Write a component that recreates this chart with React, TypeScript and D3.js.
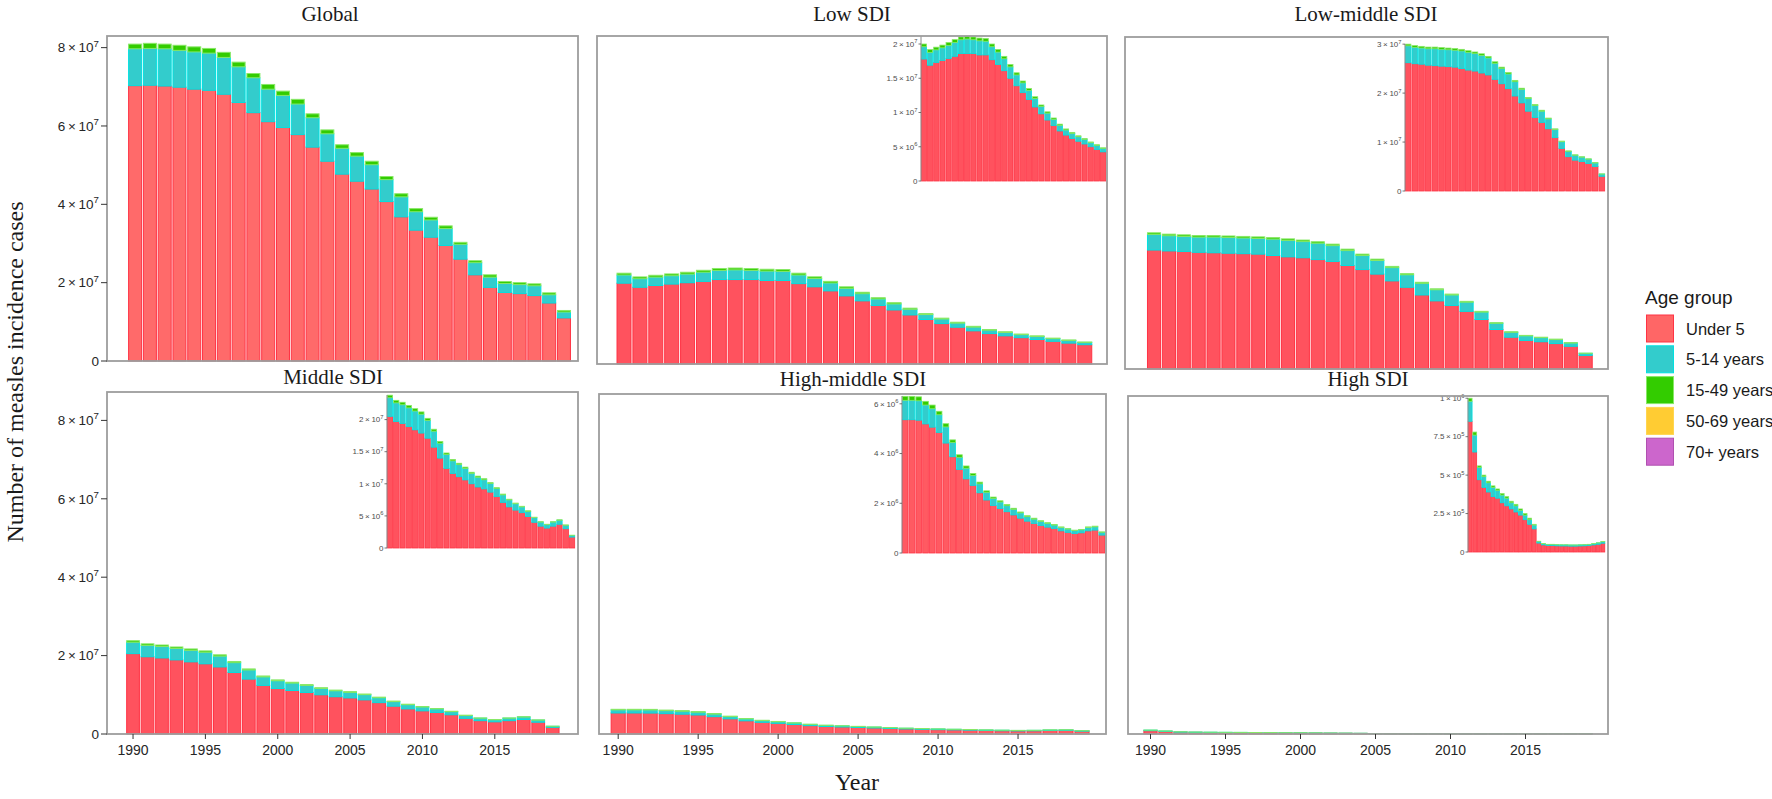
import * as d3 from "d3";
import React from "react";

// values are in millions of incident cases
const years = [1990, 1991, 1992, 1993, 1994, 1995, 1996, 1997, 1998, 1999, 2000, 2001, 2002, 2003, 2004, 2005, 2006, 2007, 2008, 2009, 2010, 2011, 2012, 2013, 2014, 2015, 2016, 2017, 2018, 2019];
const ageGroups = ["Under 5", "5-14 years", "15-49 years", "50-69 years", "70+ years"];
const ageFill = ["#FF6666", "#33CCCC", "#33CC00", "#FFCC33", "#CC66CC"];
const ageLine = ["#FF3344", "#00E1E1", "#88E866", "#FFD54F", "#B050B0"];

const globalUnder5 = [70.3, 70.4, 70.2, 69.9, 69.4, 69.1, 68.1, 66.0, 63.4, 61.1, 59.6, 57.8, 54.6, 51.0, 47.7, 45.9, 43.9, 40.7, 36.8, 33.4, 31.6, 29.5, 26.0, 22.0, 18.8, 17.5, 17.2, 16.7, 14.8, 11.0];
const global5to14 = [9.4, 9.4, 9.5, 9.4, 9.5, 9.5, 9.4, 9.1, 8.9, 8.3, 8.2, 7.8, 7.5, 7.0, 6.6, 6.4, 6.2, 5.6, 5.1, 4.7, 4.4, 4.3, 3.8, 3.1, 2.6, 2.3, 2.3, 2.5, 2.1, 1.5];
const global15to49 = [1.2, 1.3, 1.2, 1.3, 1.3, 1.2, 1.3, 1.2, 1.1, 1.2, 1.1, 1.2, 1.0, 1.0, 0.9, 0.9, 0.9, 0.8, 0.8, 0.8, 0.7, 0.7, 0.5, 0.5, 0.6, 0.5, 0.5, 0.5, 0.5, 0.4];
const global50to69 = [0.05, 0.05, 0.05, 0.05, 0.05, 0.05, 0.05, 0.05, 0.04, 0.04, 0.04, 0.04, 0.04, 0.04, 0.03, 0.03, 0.03, 0.03, 0.03, 0.03, 0.02, 0.02, 0.02, 0.02, 0.02, 0.02, 0.02, 0.02, 0.02, 0.01];
const global70plus = [0.02, 0.02, 0.02, 0.02, 0.02, 0.02, 0.02, 0.02, 0.02, 0.02, 0.01, 0.01, 0.01, 0.01, 0.01, 0.01, 0.01, 0.01, 0.01, 0.01, 0.01, 0.01, 0.01, 0.01, 0.01, 0.01, 0.01, 0.01, 0.01, 0.01];

const lowUnder5 = [17.8, 16.9, 17.3, 17.6, 17.9, 18.2, 18.6, 18.6, 18.6, 18.4, 18.4, 17.7, 17.0, 16.1, 15.0, 13.9, 12.9, 11.9, 10.8, 9.8, 8.9, 8.1, 7.3, 6.7, 6.2, 5.8, 5.4, 5.0, 4.6, 4.25];
const low5to14 = [1.80, 1.88, 1.84, 1.84, 1.90, 2.02, 2.02, 2.12, 2.02, 2.06, 2.00, 1.90, 1.82, 1.74, 1.66, 1.58, 1.42, 1.32, 1.24, 1.08, 1.00, 0.90, 0.82, 0.74, 0.74, 0.66, 0.66, 0.58, 0.58, 0.50];
const low15to49 = [0.40, 0.40, 0.40, 0.40, 0.41, 0.42, 0.42, 0.42, 0.41, 0.41, 0.41, 0.40, 0.38, 0.36, 0.34, 0.32, 0.28, 0.28, 0.26, 0.22, 0.20, 0.20, 0.18, 0.16, 0.16, 0.14, 0.14, 0.12, 0.12, 0.10];
const low50to69 = [0.02, 0.02, 0.02, 0.02, 0.02, 0.02, 0.02, 0.02, 0.02, 0.02, 0.02, 0.02, 0.02, 0.02, 0.01, 0.01, 0.01, 0.01, 0.01, 0.01, 0.01, 0.01, 0.01, 0.01, 0.01, 0.01, 0.01, 0.01, 0.01, 0.01];
const low70plus = [0.01, 0.01, 0.01, 0.01, 0.01, 0.01, 0.01, 0.01, 0.01, 0.01, 0.01, 0.01, 0.01, 0.01, 0.01, 0.01, 0.01, 0.01, 0.01, 0.01, 0.01, 0.01, 0.01, 0.01, 0.01, 0.01, 0.01, 0.01, 0.01, 0.01];

const lmUnder5 = [26.2, 26.0, 25.9, 25.7, 25.6, 25.5, 25.4, 25.3, 25.0, 24.7, 24.5, 24.1, 23.7, 22.8, 21.9, 20.9, 19.4, 18.0, 16.3, 15.0, 14.0, 12.7, 10.9, 8.7, 7.0, 6.3, 6.0, 5.6, 5.0, 3.0];
const lm5to14 = [3.45, 3.35, 3.30, 3.35, 3.45, 3.45, 3.45, 3.45, 3.60, 3.62, 3.56, 3.60, 3.47, 3.28, 3.09, 3.00, 2.92, 2.74, 2.56, 2.44, 2.29, 2.01, 1.63, 1.36, 1.08, 0.99, 0.90, 0.88, 0.71, 0.44];
const lm15to49 = [0.35, 0.35, 0.35, 0.35, 0.35, 0.35, 0.35, 0.35, 0.34, 0.34, 0.34, 0.33, 0.33, 0.32, 0.31, 0.30, 0.28, 0.26, 0.24, 0.22, 0.21, 0.19, 0.17, 0.14, 0.12, 0.11, 0.10, 0.10, 0.09, 0.06];
const lm50to69 = [0.02, 0.02, 0.02, 0.02, 0.02, 0.02, 0.02, 0.02, 0.02, 0.02, 0.02, 0.02, 0.02, 0.02, 0.02, 0.02, 0.01, 0.01, 0.01, 0.01, 0.01, 0.01, 0.01, 0.01, 0.01, 0.01, 0.01, 0.01, 0.01, 0.01];
const lm70plus = [0.01, 0.01, 0.01, 0.01, 0.01, 0.01, 0.01, 0.01, 0.01, 0.01, 0.01, 0.01, 0.01, 0.01, 0.01, 0.01, 0.01, 0.01, 0.01, 0.01, 0.01, 0.01, 0.01, 0.01, 0.01, 0.01, 0.01, 0.01, 0.01, 0.01];

const midUnder5 = [20.5, 19.7, 19.4, 18.9, 18.4, 17.9, 17.1, 15.7, 14.0, 12.4, 11.6, 11.1, 10.6, 10.0, 9.5, 9.2, 8.7, 8.0, 7.1, 6.4, 5.9, 5.5, 4.9, 4.0, 3.4, 3.1, 3.4, 3.7, 3.0, 1.7];
const mid5to14 = [2.90, 2.90, 2.91, 2.92, 2.93, 2.94, 2.76, 2.49, 2.32, 2.15, 1.97, 1.88, 1.79, 1.60, 1.51, 1.42, 1.33, 1.24, 1.16, 1.07, 0.98, 0.89, 0.80, 0.72, 0.63, 0.53, 0.63, 0.62, 0.53, 0.26];
const mid15to49 = [0.40, 0.40, 0.39, 0.38, 0.37, 0.36, 0.34, 0.31, 0.28, 0.25, 0.23, 0.22, 0.21, 0.20, 0.19, 0.18, 0.17, 0.16, 0.14, 0.13, 0.12, 0.11, 0.10, 0.08, 0.07, 0.07, 0.07, 0.08, 0.07, 0.04];
const mid50to69 = [0.02, 0.02, 0.02, 0.02, 0.02, 0.02, 0.02, 0.01, 0.01, 0.01, 0.01, 0.01, 0.01, 0.01, 0.01, 0.01, 0.01, 0.01, 0.01, 0.01, 0.01, 0.01, 0.01, 0.01, 0.01, 0.01, 0.01, 0.01, 0.01, 0.01];
const mid70plus = [0.01, 0.01, 0.01, 0.01, 0.01, 0.01, 0.01, 0.01, 0.01, 0.01, 0.01, 0.01, 0.01, 0.01, 0.01, 0.01, 0.01, 0.01, 0.01, 0.01, 0.01, 0.01, 0.01, 0.01, 0.01, 0.01, 0.01, 0.01, 0.01, 0.01];

const hmUnder5 = [5.36, 5.36, 5.34, 5.19, 5.06, 4.85, 4.42, 3.87, 3.36, 2.98, 2.72, 2.42, 2.13, 1.91, 1.79, 1.66, 1.53, 1.40, 1.28, 1.19, 1.11, 1.04, 0.98, 0.89, 0.83, 0.78, 0.81, 0.89, 0.92, 0.72];
const hm5to14 = [0.78, 0.78, 0.78, 0.76, 0.74, 0.71, 0.65, 0.57, 0.49, 0.43, 0.40, 0.36, 0.31, 0.28, 0.26, 0.24, 0.22, 0.21, 0.18, 0.17, 0.16, 0.15, 0.14, 0.13, 0.13, 0.12, 0.12, 0.13, 0.13, 0.11];
const hm15to49 = [0.16, 0.16, 0.16, 0.15, 0.15, 0.14, 0.13, 0.11, 0.10, 0.09, 0.08, 0.07, 0.06, 0.06, 0.05, 0.05, 0.05, 0.04, 0.04, 0.04, 0.03, 0.03, 0.03, 0.03, 0.02, 0.02, 0.02, 0.03, 0.03, 0.02];
const hm50to69 = [0.01, 0.01, 0.01, 0.01, 0.01, 0.01, 0.01, 0.01, 0.01, 0.01, 0.005, 0.005, 0.005, 0.005, 0.004, 0.004, 0.004, 0.004, 0.003, 0.003, 0.003, 0.003, 0.003, 0.003, 0.003, 0.003, 0.003, 0.003, 0.003, 0.002];
const hm70plus = [0.004, 0.004, 0.004, 0.004, 0.004, 0.003, 0.003, 0.003, 0.003, 0.003, 0.002, 0.002, 0.002, 0.002, 0.002, 0.002, 0.002, 0.002, 0.002, 0.002, 0.001, 0.001, 0.001, 0.001, 0.001, 0.001, 0.001, 0.001, 0.001, 0.001];

const hiUnder5 = [0.85, 0.65, 0.47, 0.42, 0.39, 0.36, 0.35, 0.32, 0.30, 0.28, 0.26, 0.24, 0.21, 0.18, 0.15, 0.058, 0.046, 0.042, 0.042, 0.040, 0.039, 0.039, 0.038, 0.038, 0.039, 0.040, 0.042, 0.046, 0.050, 0.057];
const hi5to14 = [0.13, 0.11, 0.08, 0.07, 0.06, 0.06, 0.05, 0.05, 0.05, 0.04, 0.04, 0.03, 0.03, 0.03, 0.025, 0.010, 0.008, 0.007, 0.007, 0.007, 0.007, 0.007, 0.007, 0.007, 0.007, 0.007, 0.007, 0.008, 0.009, 0.010];
const hi15to49 = [0.02, 0.02, 0.01, 0.01, 0.01, 0.01, 0.01, 0.01, 0.01, 0.01, 0.01, 0.01, 0.01, 0.01, 0.005, 0.002, 0.001, 0.001, 0.001, 0.001, 0.001, 0.001, 0.001, 0.001, 0.001, 0.001, 0.001, 0.001, 0.001, 0.001];
const hi50to69 = [0.001, 0.001, 0.001, 0.001, 0.001, 0.001, 0.001, 0.001, 0.001, 0.001, 0.001, 0.001, 0.001, 0.001, 0.001, 0.0005, 0.0005, 0.0005, 0.0005, 0.0005, 0.0005, 0.0005, 0.0005, 0.0005, 0.0005, 0.0005, 0.0005, 0.0005, 0.0005, 0.0005];
const hi70plus = [0.0005, 0.0005, 0.0005, 0.0005, 0.0005, 0.0005, 0.0005, 0.0005, 0.0005, 0.0005, 0.0005, 0.0005, 0.0005, 0.0005, 0.0005, 0.0002, 0.0002, 0.0002, 0.0002, 0.0002, 0.0002, 0.0002, 0.0002, 0.0002, 0.0002, 0.0002, 0.0002, 0.0002, 0.0002, 0.0002];

const mainTicks = [0, 20, 40, 60, 80];
const yearTicks = [1990, 1995, 2000, 2005, 2010, 2015];

const serif = "'Liberation Serif', 'Times New Roman', serif";
const sans = "'Liberation Sans', Arial, sans-serif";

// layout of the six panels (pixel boxes are picture layout, not data)
const panels = [
  { title: "Global", series: [globalUnder5, global5to14, global15to49, global50to69, global70plus], frame: [107, 36, 578, 361], px10: 39.17, xDomain: [1988.1, 2019.95], titleX: 330, titleY: 21, yAxis: true, xAxis: false, red: "#FF6A6A", inset: null },
  { title: "Low SDI", series: [lowUnder5, low5to14, low15to49, low50to69, low70plus], frame: [597, 36, 1107, 364], px10: 45.4, xDomain: [1988.3, 2020.4], titleX: 852, titleY: 21, yAxis: false, xAxis: false, red: "#FF525E", inset: { box: [921, 36, 1106, 181], ticks: [0, 5, 10, 15, 20] } },
  { title: "Low-middle SDI", series: [lmUnder5, lm5to14, lm15to49, lm50to69, lm70plus], frame: [1125, 37, 1608, 369], px10: 45.4, xDomain: [1988.05, 2020.5], titleX: 1366, titleY: 21, yAxis: false, xAxis: false, red: "#FF525E", inset: { box: [1405, 44, 1605, 191], ticks: [0, 10, 20, 30] } },
  { title: "Middle SDI", series: [midUnder5, mid5to14, mid15to49, mid50to69, mid70plus], frame: [107, 392, 578, 734], px10: 39.2, xDomain: [1988.2, 2020.75], titleX: 333, titleY: 384, yAxis: true, xAxis: true, red: "#FF525E", inset: { box: [387, 395, 575, 548], ticks: [0, 5, 10, 15, 20] } },
  { title: "High-middle SDI", series: [hmUnder5, hm5to14, hm15to49, hm50to69, hm70plus], frame: [599, 394, 1106, 734], px10: 39.2, xDomain: [1988.8, 2020.5], titleX: 853, titleY: 386, yAxis: false, xAxis: true, red: "#FF5A62", inset: { box: [902, 396, 1105, 553], ticks: [0, 2, 4, 6] } },
  { title: "High SDI", series: [hiUnder5, hi5to14, hi15to49, hi50to69, hi70plus], frame: [1128, 396, 1608, 734], px10: 39.2, xDomain: [1988.5, 2020.5], titleX: 1368, titleY: 386, yAxis: false, xAxis: true, red: "#FF525E", inset: { box: [1468, 398, 1605, 552], ticks: [0, 0.25, 0.5, 0.75, 1] } },
];

function stackRows(series: number[][]) {
  const rows = years.map((yr, i) => {
    const r: any = { year: yr };
    ageGroups.forEach((g, k) => (r[g] = series[k][i]));
    return r;
  });
  return d3.stack().keys(ageGroups)(rows);
}

// value in millions -> "m × 10^e"
function SciLabel({ x, y, v, size, fill }: any) {
  if (v === 0) {
    return <text x={x} y={y + size * 0.35} textAnchor="end" fontSize={size} fill={fill} fontFamily={sans}>0</text>;
  }
  const val = v * 1e6;
  const e = Math.floor(Math.log10(val) + 1e-9);
  const m = +(val / Math.pow(10, e)).toFixed(2);
  return (
    <text x={x} y={y + size * 0.35} textAnchor="end" fontSize={size} fill={fill} fontFamily={sans}>
      {`${m}\u2009×\u200910`}
      <tspan dy={-size * 0.42} fontSize={size * 0.72}>{e}</tspan>
    </text>
  );
}

function Bars({ layers, xPos, bw, y, red, sw }: any) {
  return (
    <g>
      {layers.map((layer: any, k: number) => (
        <g key={k}>
          {layer.map((d: any, i: number) => {
            const top = y(d[1]);
            const h = y(d[0]) - top;
            if (k >= 3 && h < 1) return null;
            return (
              <rect key={i} x={xPos(i)} y={top} width={bw} height={Math.max(h, 0)}
                fill={k === 0 ? red : ageFill[k]} stroke={ageLine[k]} strokeWidth={sw} />
            );
          })}
        </g>
      ))}
    </g>
  );
}

function Panel({ p }: any) {
  const [x0, y0, x1, y1] = p.frame;
  const x = d3.scaleLinear().domain(p.xDomain).range([x0, x1]);
  const y = d3.scaleLinear().domain([0, 100]).range([y1, y1 - p.px10 * 10]);
  const layers = stackRows(p.series);
  const pitch = x(1991) - x(1990);
  const bw = pitch * 0.88;
  const totals = years.map((_, i) => d3.sum(p.series, (s: number[]) => s[i]));

  let inset = null;
  if (p.inset) {
    const [ix0, iy0, ix1, iy1] = p.inset.box;
    const ix = d3.scaleBand<number>().domain(years).range([ix0, ix1]).paddingInner(0.16).paddingOuter(0.05);
    const iy = d3.scaleLinear().domain([0, d3.max(totals) as number]).range([iy1, iy0]);
    inset = (
      <g>
        <rect x={ix0} y={iy0} width={ix1 - ix0} height={iy1 - iy0} fill="white" />
        <Bars layers={layers} xPos={(i: number) => ix(years[i]) as number} bw={ix.bandwidth()} y={iy} red={p.red} sw={0.8} />
        <line x1={ix0} x2={ix0} y1={iy0} y2={iy1} stroke="#8a8a8a" strokeWidth={1} />
        {p.inset.ticks.map((t: number) => (
          <g key={t}>
            <line x1={ix0 - 2.5} x2={ix0} y1={iy(t)} y2={iy(t)} stroke="#555" strokeWidth={0.8} />
            <SciLabel x={ix0 - 3.5} y={iy(t)} v={t} size={8} fill="#4d4d4d" />
          </g>
        ))}
      </g>
    );
  }

  return (
    <g>
      <text x={p.titleX} y={p.titleY} textAnchor="middle" fontSize={21} fontFamily={serif} fill="#1a1a1a">{p.title}</text>
      <Bars layers={layers} xPos={(i: number) => x(years[i]) - bw / 2} bw={bw} y={y} red={p.red} sw={1} />
      {inset}
      <rect x={x0} y={y0} width={x1 - x0} height={y1 - y0} fill="none" stroke="#9d9d9d" strokeWidth={1.8} />
      {p.yAxis && mainTicks.map((t) => (
        <g key={t}>
          <line x1={x0 - 6} x2={x0} y1={y(t)} y2={y(t)} stroke="#333" strokeWidth={1} />
          <SciLabel x={x0 - 8} y={y(t)} v={t} size={13.5} fill="#262626" />
        </g>
      ))}
      {p.xAxis && yearTicks.map((t) => (
        <g key={t}>
          <line x1={x(t)} x2={x(t)} y1={y1} y2={y1 + 5} stroke="#333" strokeWidth={1} />
          <text x={x(t)} y={y1 + 21} textAnchor="middle" fontSize={14} fontFamily={sans} fill="#262626">{t}</text>
        </g>
      ))}
    </g>
  );
}

export default function App() {
  return (
    <svg width={1772} height={799} style={{ position: "absolute", left: 0, top: 0, background: "white" }}>
      <rect width={1772} height={799} fill="white" />
      {panels.map((p) => <Panel key={p.title} p={p} />)}
      <text transform="translate(23,372) rotate(-90)" textAnchor="middle" fontSize={24} fontFamily={serif} fill="#1a1a1a">
        Number of measles incidence cases
      </text>
      <text x={857} y={790} textAnchor="middle" fontSize={24} fontFamily={serif} fill="#1a1a1a">Year</text>
      <g>
        <text x={1645} y={304} fontSize={19} fontFamily={sans} fill="#1a1a1a">Age group</text>
        {ageGroups.map((g, k) => (
          <g key={g}>
            <rect x={1646.5} y={315 + k * 30.8} width={27} height={27} fill={ageFill[k]} stroke={ageLine[k]} strokeWidth={1} />
            <text x={1686} y={315 + k * 30.8 + 19.5} fontSize={16.5} fontFamily={sans} fill="#1a1a1a">{g}</text>
          </g>
        ))}
      </g>
    </svg>
  );
}
